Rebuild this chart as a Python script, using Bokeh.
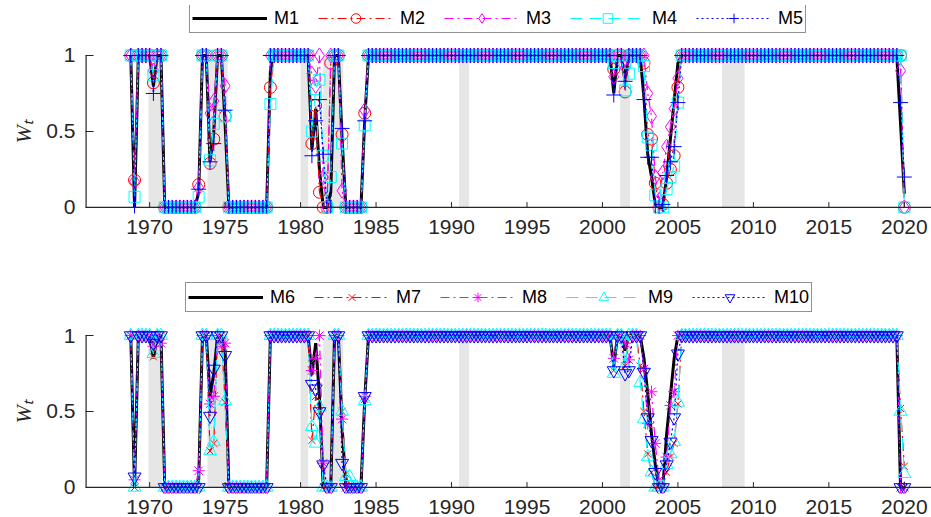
import pandas as pd
from bokeh.plotting import figure
from bokeh.layouts import column
from bokeh.models import Range1d, FixedTicker, Legend, LegendItem, Title
from bokeh.embed import file_html
from bokeh.resources import INLINE

# ---------------- data ----------------
# quarterly observations 1968Q4 ... 2020Q1
periods = pd.period_range("1968Q4", "2020Q1", freq="Q")
dates = [pr.year + (pr.quarter - 1) / 4 for pr in periods]

# recession shading (start, end)
rec_start = [1969.92, 1973.83, 1980.0, 1981.5, 1990.5, 2001.17, 2007.92]
rec_end = [1970.83, 1975.17, 1980.5, 1982.83, 1991.17, 2001.83, 2009.42]

year_ticks = [1970, 1975, 1980, 1985, 1990, 1995, 2000, 2005, 2010, 2015, 2020]
w_ticks = [0, 0.5, 1]
w_tick_labels = {0: "0", 0.5: "0.5", 1: "1"}

names_top = ["M1", "M2", "M3", "M4", "M5"]
names_bot = ["M6", "M7", "M8", "M9", "M10"]

M1 = ([1, 0, 1, 1, 1, 1, 0.8, 1, 1] + [0] * 9
      + [0.1, 1, 1, 0.3, 0.5, 1, 1, 0.55] + [0] * 11 + [0.9] + [1] * 10
      + [0.38, 0.65, 0.25, 0, 0, 0.1, 1, 1, 0.45, 0, 0, 0, 0, 0, 0.58] + [1] * 65
      + [0.75, 1, 1, 0.83, 1, 1, 1, 1, 0.72, 0.35, 0.2, 0.02, 0, 0, 0.2, 0.45, 0.7, 0.95]
      + [1] * 58 + [0.55, 0.09])
M2 = ([1, 0.18, 1, 1, 1, 1, 0.82, 1, 1] + [0] * 9
      + [0.15, 1, 1, 0.29, 0.45, 1, 1, 0.6] + [0] * 11 + [0.79] + [1] * 10
      + [0.42, 0.67, 0.1, 0, 0, 0.95, 1, 1, 0.48, 0, 0, 0, 0, 0, 0.62] + [1] * 65
      + [0.91, 1, 1, 0.76, 1, 1, 1, 1, 0.95, 0.48, 0.45, 0.16, 0, 0.02, 0.16, 0.25, 0.34, 0.79]
      + [1] * 58 + [1, 0])
M3 = ([1, 0.17, 1, 1, 1, 1, 0.9, 1, 1] + [0] * 9
      + [0.13, 1, 1, 0.62, 0.7, 1, 1, 0.8] + [0] * 11 + [1] + [1] * 10
      + [0.88, 0.8, 1, 0.2, 0, 1, 1, 1, 0.11, 0, 0, 0, 0, 0, 0.64] + [1] * 65
      + [0.86, 1, 1, 0.92, 1, 1, 1, 1, 1, 0.75, 0.6, 0.2, 0.05, 0.23, 0.4, 0.53, 0.65, 0.85]
      + [1] * 58 + [0.9, 0])
M4 = ([1, 0.07, 1, 1, 1, 1, 0.87, 1, 1] + [0] * 9
      + [0.07, 1, 1, 0.31, 0.55, 1, 1, 0.6] + [0] * 11 + [0.68] + [1] * 10
      + [0.5, 0.78, 0.84, 0.34, 0, 0.2, 1, 1, 0.42, 0, 0, 0, 0, 0, 0.54] + [1] * 65
      + [0.95, 1, 1, 0.77, 0.88, 1, 1, 1, 0.93, 0.46, 0.41, 0.08, 0, 0, 0.12, 0.2, 0.27, 0.69]
      + [1] * 58 + [1, 0])
M5 = ([1, 0, 1, 1, 1, 1, 0.75, 1, 1] + [0] * 9
      + [0.12, 1, 1, 0.3, 0.42, 1, 1, 0.64] + [0] * 11 + [1] + [1] * 10
      + [0.34, 0.57, 0.71, 0.35, 0, 0, 1, 1, 0.52, 0, 0, 0, 0, 0, 0.57] + [1] * 65
      + [0.74, 1, 1, 0.83, 1, 1, 1, 1, 0.71, 0.33, 0.33, 0.0, 0, 0.02, 0.21, 0.3, 0.4, 0.69]
      + [1] * 58 + [0.69, 0.2])

M6 = ([1, 0, 1, 1, 1, 1, 0.85, 1, 1] + [0] * 9
      + [0.05, 1, 1, 0.6, 0.75, 1, 1, 0.9] + [0] * 11 + [1] + [1] * 10
      + [0.74, 0.95, 0.6, 0, 0, 0, 1, 1, 0.4, 0, 0, 0, 0, 0, 0.58] + [1] * 65
      + [0.8, 1, 1, 0.9, 1, 1, 1, 1, 0.85, 0.62, 0.35, 0.15, 0, 0, 0.35, 0.6, 0.85, 1]
      + [1] * 58 + [0, 0])
M7 = ([1, 0, 1, 1, 1, 1, 0.86, 1, 1] + [0] * 9
      + [0, 1, 1, 0.24, 0.29, 1, 1, 0.56] + [0] * 11 + [1] + [1] * 10
      + [0.31, 0.6, 0.5, 0, 0, 0, 1, 1, 0.5, 0.09, 0, 0, 0, 0, 0.58] + [1] * 65
      + [0.77, 1, 1, 0.8, 1, 1, 1, 0.8, 0.5, 0.22, 0.1, 0, 0, 0, 0.1, 0.2, 0.29, 0.55]
      + [1] * 58 + [0.52, 0.14])
M8 = ([1, 0.05, 1, 1, 1, 1, 0.93, 1, 0.95] + [0] * 9
      + [0.11, 1, 1, 0.55, 0.6, 1, 0.93, 0.95] + [0] * 11 + [1] + [1] * 10
      + [0.77, 0.85, 1, 0.16, 0, 0, 1, 1, 0.45, 0, 0, 0, 0, 0, 0.6] + [1] * 65
      + [0.85, 1, 1, 0.95, 0.84, 1, 1, 1, 0.78, 0.42, 0.63, 0.29, 0.05, 0, 0.2, 0.54, 0.63, 1]
      + [1] * 58 + [0, 0])
M9 = ([1, 0, 1, 1, 1, 1, 0.88, 1, 1] + [0] * 9
      + [0, 1, 1, 0.24, 0.3, 1, 1, 0.57] + [0] * 11 + [1] + [1] * 10
      + [0.4, 0.29, 0.53, 0, 0, 0, 1, 1, 0.5, 0.07, 0.07, 0, 0, 0, 0.57] + [1] * 65
      + [0.75, 1, 1, 0.8, 1, 1, 1, 0.69, 0.45, 0.2, 0.1, 0, 0, 0, 0.15, 0.22, 0.3, 0.56]
      + [1] * 58 + [0.5, 0.09])
M10 = ([1, 0.07, 1, 1, 1, 1, 0.95, 1, 1] + [0] * 9
       + [0, 1, 1, 0.47, 0.78, 1, 1, 0.87] + [0] * 11 + [1] + [1] * 10
       + [0.68, 0.65, 0.5, 0.15, 0, 0, 1, 1, 0.16, 0, 0, 0, 0, 0, 0.6] + [1] * 65
       + [0.77, 1, 1, 0.75, 0.77, 1, 1, 1, 0.76, 0.46, 0.31, 0.1, 0, 0, 0.15, 0.3, 0.46, 0.88]
       + [1] * 58 + [0, 0])

series_top = [M1, M2, M3, M4, M5]
series_bot = [M6, M7, M8, M9, M10]

# ---------------- styles ----------------
XMIN, XMAX = 1965.75, 2021.8
AX = "#262626"

styles_top = [
    dict(color="black", width=3, dash="solid", marker=None, size=0),
    dict(color="#ff0000", width=1.2, dash="9 4 2 4", marker="circle", size=12),
    dict(color="#ff00ff", width=1.2, dash="9 4 2 4", marker="diamond", size=15),
    dict(color="#00ffff", width=1.2, dash="12 7", marker="square", size=11),
    dict(color="#0000ff", width=1.2, dash="2 3", marker="cross", size=15),
]
styles_bot = [
    dict(color="black", width=3, dash="solid", marker=None, size=0),
    dict(color="#ff0000", width=1.2, dash="9 4 2 4", marker="x", size=10),
    dict(color="#ff00ff", width=1.2, dash="9 4 2 4", marker="asterisk", size=12),
    dict(color="#00ffff", width=1.2, dash="12 7", marker="triangle", size=13),
    dict(color="#0000ff", width=1.2, dash="2 3", marker="inverted_triangle", size=13),
]


def make_panel(names, series, styles, y_top, frame_h, b_top, b_bot, leg_x, leg_y, lab_off):
    p = figure(frame_width=846, frame_height=frame_h,
               x_range=Range1d(XMIN, XMAX), y_range=Range1d(-0.04, y_top),
               output_backend="svg", toolbar_location=None,
               min_border_left=85, min_border_right=0,
               min_border_top=b_top, min_border_bottom=b_bot)
    p.outline_line_color = None
    p.grid.visible = False
    p.background_fill_color = "white"
    p.border_fill_color = "white"

    p.quad(left=rec_start, right=rec_end, bottom=0, top=1,
           fill_color="#e6e6e6", line_color=None)

    items = []
    for name, vals, st in zip(names, series, styles):
        assert len(vals) == len(dates), (name, len(vals))
        rl = p.line(dates, vals, line_color=st["color"], line_width=st["width"],
                    line_dash=st["dash"])
        rs = [rl]
        if st["marker"]:
            rm = p.scatter(dates, vals, marker=st["marker"], size=st["size"],
                           line_color=st["color"], fill_color=None, line_width=1)
            rs.append(rm)
        items.append(LegendItem(label=name, renderers=rs))

    # axis lines (from 0 to 1 only) and inward x ticks
    p.segment(x0=[XMIN], y0=[0], x1=[XMAX], y1=[0], line_color=AX, line_width=1.2)
    p.segment(x0=[XMIN], y0=[0], x1=[XMIN], y1=[1], line_color=AX, line_width=2.4)
    p.segment(x0=year_ticks, y0=[0] * len(year_ticks), x1=year_ticks,
              y1=[0.035] * len(year_ticks), line_color=AX, line_width=1)

    xa = p.xaxis[0]
    xa.ticker = FixedTicker(ticks=year_ticks)
    xa.axis_line_color = None
    xa.major_tick_line_color = None
    xa.minor_tick_line_color = None
    xa.major_label_standoff = 0
    xa.major_label_text_font = "Liberation Sans"
    xa.major_label_text_font_size = "21px"
    xa.major_label_text_color = AX

    ya = p.yaxis[0]
    ya.ticker = FixedTicker(ticks=w_ticks)
    ya.major_label_overrides = w_tick_labels
    ya.axis_line_color = None
    ya.major_tick_in = 8
    ya.major_tick_out = 0
    ya.major_tick_line_color = AX
    ya.minor_tick_line_color = None
    ya.major_label_standoff = 10
    ya.major_label_text_font = "Liberation Sans"
    ya.major_label_text_font_size = "21px"
    ya.major_label_text_color = AX

    ttl = Title(text="Wₜ", align="left", offset=lab_off, standoff=16,
                text_font="Liberation Serif", text_font_style="italic",
                text_font_size="22px", text_color=AX)
    p.add_layout(ttl, "left")

    leg = Legend(items=items, orientation="horizontal", location=(leg_x, leg_y))
    leg.label_text_font = "Liberation Sans"
    leg.label_text_font_size = "18px"
    leg.label_text_color = "black"
    leg.glyph_width = 75
    leg.glyph_height = 24
    leg.label_standoff = 7
    leg.spacing = 19
    leg.padding = 2
    leg.margin = 0
    leg.border_line_color = AX
    leg.border_line_width = 1
    leg.background_fill_color = "white"
    leg.background_fill_alpha = 1
    p.add_layout(leg)
    return p


# top: frame 5..213 px (0 -> 207, 1 -> 55)
p1 = make_panel(names_top, series_top, styles_top, 1.329, 208, 5, 44, 104, 180, 70)
# bottom: frame 280..493 px (0 -> 487, 1 -> 335)
p2 = make_panel(names_bot, series_bot, styles_bot, 1.3626, 213, 23, 24, 100, 181, 70)

layout = column(p1, p2, spacing=0)
open("out.html", "w").write(file_html(layout, INLINE))
